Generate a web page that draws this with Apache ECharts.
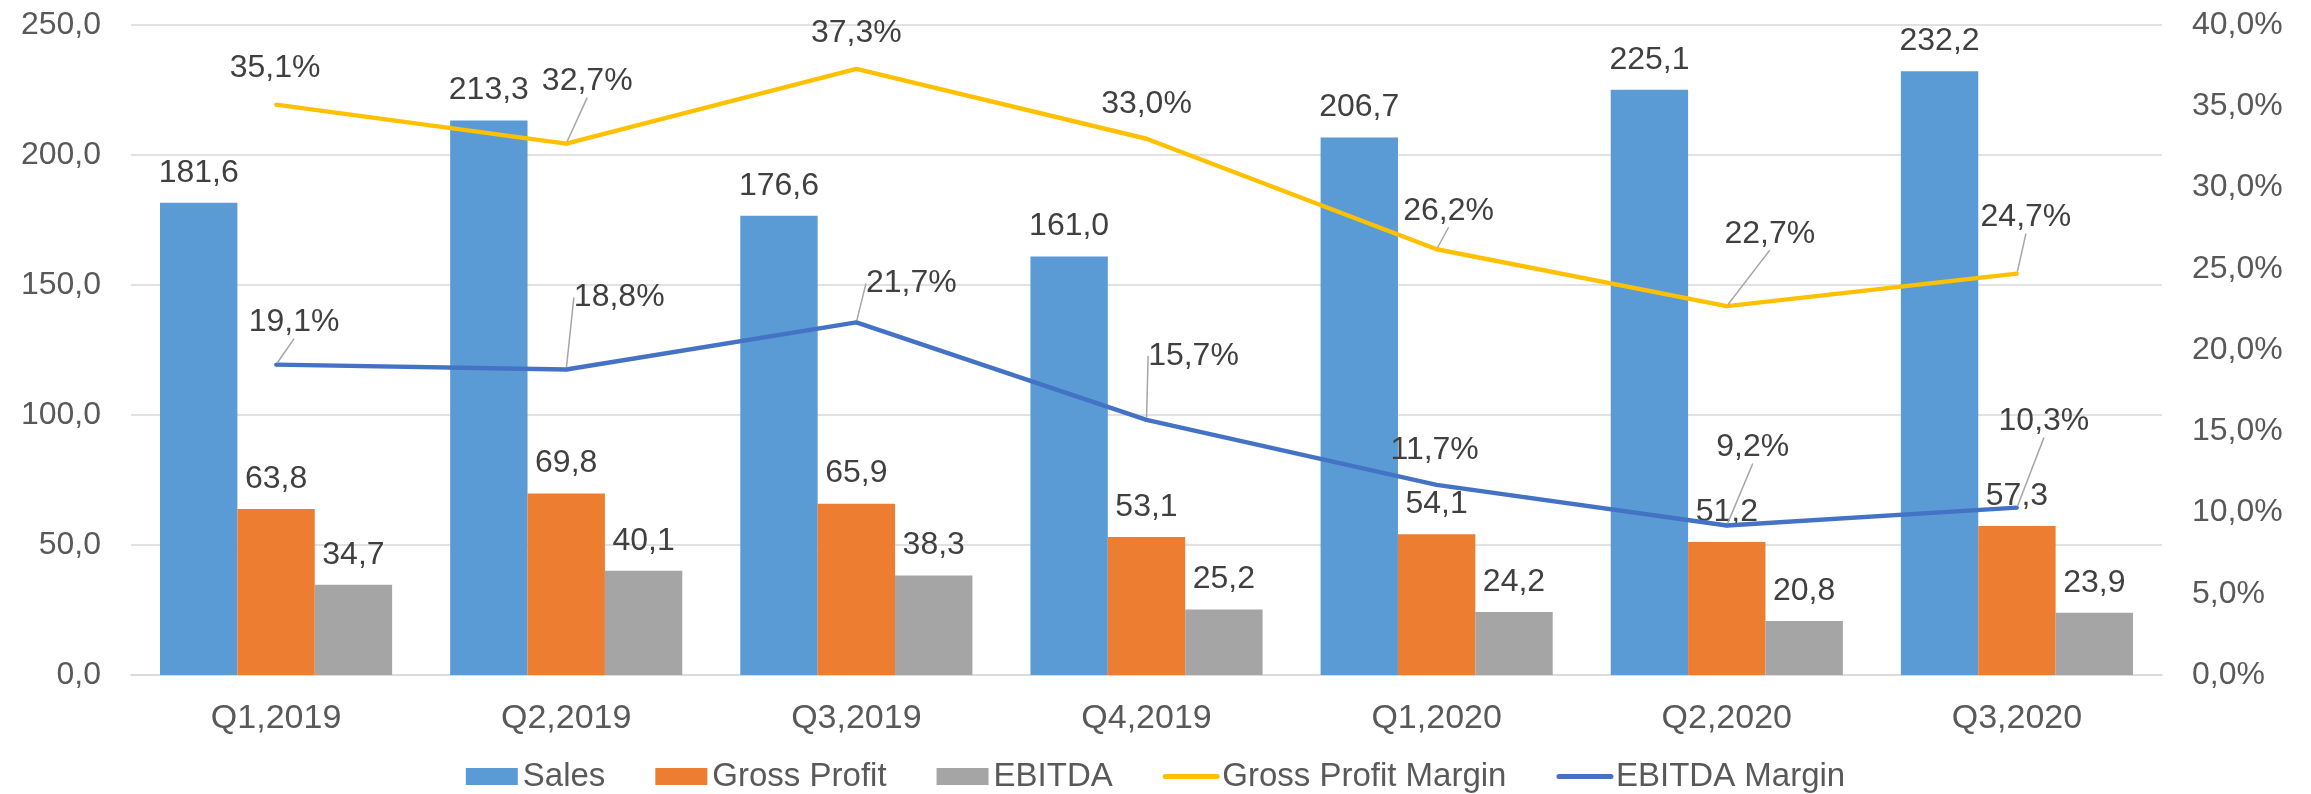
<!DOCTYPE html>
<html>
<head>
<meta charset="utf-8">
<script src="https://cdn.jsdelivr.net/npm/echarts@6/dist/echarts.min.js"></script>
<style>
  html, body { margin: 0; padding: 0; background: #fff; }
  #chart { width: 2311px; height: 794px; }
</style>
</head>
<body>
<div id="chart"></div>
<script>
const categories = ["Q1,2019", "Q2,2019", "Q3,2019", "Q4,2019", "Q1,2020", "Q2,2020", "Q3,2020"];
const sales = [181.6, 213.3, 176.6, 161.0, 206.7, 225.1, 232.2];
const grossProfit = [63.8, 69.8, 65.9, 53.1, 54.1, 51.2, 57.3];
const ebitda = [34.7, 40.1, 38.3, 25.2, 24.2, 20.8, 23.9];
const grossMargin = [35.1, 32.7, 37.3, 33.0, 26.2, 22.7, 24.7];
const ebitdaMargin = [19.1, 18.8, 21.7, 15.7, 11.7, 9.2, 10.3];

// where Excel dragged the margin labels (label centre minus point), and whether a leader line is drawn
const gmLabelShift = [[-1, -36], [21, -62], [0, -36], [0, -35], [12, -38], [43, -72], [9, -56]];
const gmLeader = [false, true, false, false, true, true, true];
const emLabelShift = [[18, -42], [53, -72], [55, -39], [47, -64], [-2, -35], [26, -78], [27, -86]];
const emLeader = [true, true, true, true, false, true, true];

const FONT = "'Liberation Sans', Arial, sans-serif";
const fmt = v => v.toFixed(1).replace(".", ",");

const chart = echarts.init(document.getElementById("chart"));

function barSeries(name, values, color) {
  return {
    name: name,
    type: "bar",
    yAxisIndex: 0,
    data: values,
    barGap: "0%",
    barCategoryGap: "20%",
    itemStyle: { color: color },
    label: {
      show: true,
      position: "top",
      distance: 14,
      fontFamily: FONT,
      fontSize: 32,
      color: "#404040",
      formatter: p => fmt(p.value)
    }
  };
}

function lineSeries(name, values, color, shifts, leaders) {
  return {
    name: name,
    type: "line",
    yAxisIndex: 1,
    data: values.map((v, i) => ({ value: v, labelLine: { show: leaders[i] } })),
    symbol: "circle",
    symbolSize: 4,
    itemStyle: { color: color },
    lineStyle: { color: color, width: 4.5 },
    z: 5,
    label: {
      show: true,
      position: "inside",
      fontFamily: FONT,
      fontSize: 32,
      color: "#404040",
      formatter: p => fmt(p.value) + "%"
    },
    labelLine: { show: true, lineStyle: { color: "#a6a6a6", width: 1.5 } },
    labelLayout: p => ({ dx: shifts[p.dataIndex][0], dy: shifts[p.dataIndex][1] })
  };
}

const option = {
  animation: false,
  backgroundColor: "#fff",
  textStyle: { fontFamily: FONT },
  grid: { left: 131, right: 149, top: 25, bottom: 119 },
  legend: {
    top: 755,
    left: "center",
    itemWidth: 52,
    itemHeight: 17,
    itemGap: 50,
    textStyle: { fontFamily: FONT, fontSize: 33, color: "#595959" },
    data: [
      { name: "Sales", icon: "rect" },
      { name: "Gross Profit", icon: "rect" },
      { name: "EBITDA", icon: "rect" },
      { name: "Gross Profit Margin", itemStyle: { opacity: 0 }, lineStyle: { width: 5, cap: "round" } },
      { name: "EBITDA Margin", itemStyle: { opacity: 0 }, lineStyle: { width: 5, cap: "round" } }
    ]
  },
  xAxis: {
    type: "category",
    data: categories,
    axisLine: { lineStyle: { color: "#d9d9d9", width: 1.5 } },
    axisTick: { show: false },
    axisLabel: { fontFamily: FONT, fontSize: 34, color: "#595959", margin: 27 }
  },
  yAxis: [
    {
      type: "value",
      min: 0,
      max: 250,
      interval: 50,
      axisLine: { show: false },
      axisTick: { show: false },
      splitLine: { lineStyle: { color: "#d9d9d9", width: 1.5 } },
      axisLabel: { fontFamily: FONT, fontSize: 32, color: "#595959", margin: 30, formatter: v => fmt(v) }
    },
    {
      type: "value",
      min: 0,
      max: 40,
      interval: 5,
      axisLine: { show: false },
      axisTick: { show: false },
      splitLine: { show: false },
      axisLabel: { fontFamily: FONT, fontSize: 32, color: "#595959", margin: 30, formatter: v => fmt(v) + "%" }
    }
  ],
  series: [
    barSeries("Sales", sales, "#5b9bd5"),
    barSeries("Gross Profit", grossProfit, "#ed7d31"),
    barSeries("EBITDA", ebitda, "#a5a5a5"),
    lineSeries("Gross Profit Margin", grossMargin, "#ffc000", gmLabelShift, gmLeader),
    lineSeries("EBITDA Margin", ebitdaMargin, "#4472c4", emLabelShift, emLeader)
  ]
};

chart.setOption(option);
</script>
</body>
</html>
